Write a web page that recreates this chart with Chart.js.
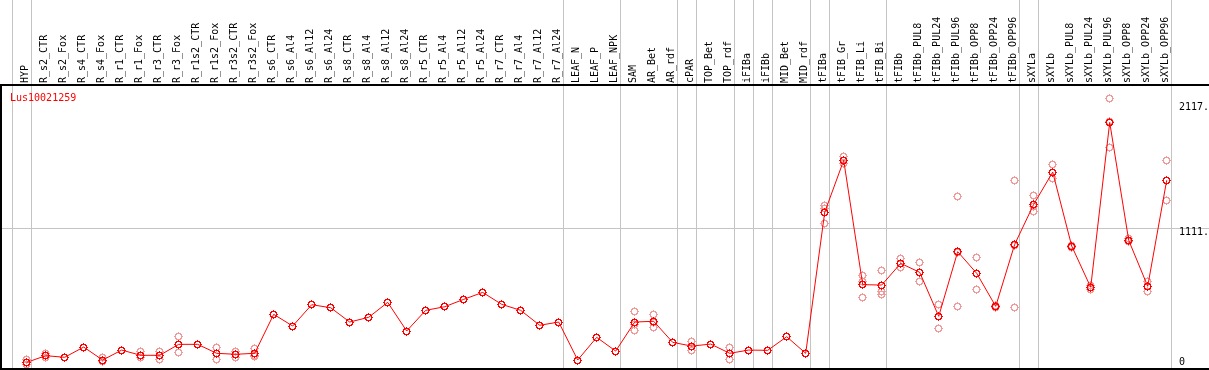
<!DOCTYPE html>
<html>
<head>
<meta charset="utf-8">
<title>Lus10021259</title>
<script src="https://cdn.jsdelivr.net/npm/chart.js@4.4.1/dist/chart.umd.min.js"></script>
<style>
  html, body { margin: 0; padding: 0; background: #fff; }
  #wrap { width: 1209px; height: 370px; }
</style>
</head>
<body>
<div id="wrap"><canvas id="geneChart" width="1209" height="370"></canvas></div>
<script>
// gene id shown in the corner
const geneName = 'Lus10021259';

// sample names, left to right
const categories = [
    'HYP', 'R_s2_CTR', 'R_s2_Fox', 'R_s4_CTR', 'R_s4_Fox', 'R_r1_CTR', 'R_r1_Fox',
    'R_r3_CTR', 'R_r3_Fox', 'R_r1s2_CTR', 'R_r1s2_Fox', 'R_r3s2_CTR', 'R_r3s2_Fox',
    'R_s6_CTR', 'R_s6_Al4', 'R_s6_Al12', 'R_s6_Al24', 'R_s8_CTR', 'R_s8_Al4',
    'R_s8_Al12', 'R_s8_Al24', 'R_r5_CTR', 'R_r5_Al4', 'R_r5_Al12', 'R_r5_Al24',
    'R_r7_CTR', 'R_r7_Al4', 'R_r7_Al12', 'R_r7_Al24', 'LEAF_N', 'LEAF_P', 'LEAF_NPK',
    'SAM', 'AR_Bet', 'AR_rdf', 'cPAR', 'TOP_Bet', 'TOP_rdf', 'iFIBa', 'iFIBb',
    'MID_Bet', 'MID_rdf', 'tFIBa', 'tFIB_Gr', 'tFIB_Li', 'tFIB_Bi', 'tFIBb',
    'tFIBb_PUL8', 'tFIBb_PUL24', 'tFIBb_PUL96', 'tFIBb_OPP8', 'tFIBb_OPP24', 'tFIBb_OPP96',
    'sXYLa', 'sXYLb', 'sXYLb_PUL8', 'sXYLb_PUL24', 'sXYLb_PUL96', 'sXYLb_OPP8',
    'sXYLb_OPP24', 'sXYLb_OPP96'
];

// mean expression per sample
const meanValues = [
    38, 92, 79, 161, 57, 137, 95, 95, 183, 183, 111, 103, 111,
    424, 330, 501, 477, 362, 400, 520, 290, 456, 485, 544, 600,
    504, 456, 336, 362, 57, 239, 129,
    362, 368, 199, 169, 185, 111, 137, 135, 244, 111,
    1243, 1660, 662, 659, 833, 761, 408, 927, 753, 488, 986,
    1307, 1566, 972, 641, 1965, 1018, 649, 1500
];

// single replicates (null where none is shown)
const rep1 = [
    60, 111, null, null, 79, null, 127, 127, 247, null, 161, 127, 153,
    null, null, null, null, null, null, null, null, null, null, null, null,
    null, null, null, null, null, null, null,
    448, 426, null, 207, null, 156, null, null, null, null,
    1301, 1695, 735, 777, 870, 841, 504, 1371, 882, 495, 1500,
    1379, 1623, 980, 655, 2158, 1030, 691, 1660
];
const rep2 = [
    38, 92, null, null, 50, null, 80, 95, 183, null, 107, 103, 95,
    null, null, null, null, null, null, null, null, null, null, null, null,
    null, null, null, null, null, null, null,
    340, 362, null, 165, null, 111, null, null, null, null,
    1273, 1655, 690, 607, 833, 761, 408, 922, 753, 488, 978,
    1291, 1566, 972, 641, 1972, 1018, 649, 1500
];
const rep3 = [
    18, 75, null, null, 42, null, 78, 63, 119, null, 65, 80, 85,
    null, null, null, null, null, null, null, null, null, null, null, null,
    null, null, null, null, null, null, null,
    298, 316, null, 135, null, 65, null, null, null, null,
    1155, 1631, 560, 585, 798, 689, 312, 488, 625, 481, 480,
    1251, 1513, 964, 627, 1765, 1006, 605, 1339
];

// last sample index of each tissue group (-1 = before the first one)
const groupEnds = [-1, 0, 28, 31, 34, 35, 37, 38, 39, 41, 42, 45, 52, 53, 60];

// right hand axis
const yTicks = [0, 1111, 2117];
const yTickLabels = ['0', '1111.', '2117.'];

const MONO = '"DejaVu Sans Mono", "Liberation Mono", monospace';

// pixel mask of the marker: a small ring with four stubs
const MARKER_MASK = [
    '....X....',
    '..XXXXX..',
    '.XX...XX.',
    '.X.....X.',
    'XX.....XX',
    '.X.....X.',
    '.XX...XX.',
    '..XXXXX..',
    '....X....'
];

/**
 * Paint the marker mask onto a small canvas, used as pointStyle
 */
function makeMarker(color) {
    const c = document.createElement('canvas');
    c.width = MARKER_MASK[0].length;
    c.height = MARKER_MASK.length;
    const g = c.getContext('2d');
    g.fillStyle = color;
    MARKER_MASK.forEach((row, y) => {
        for (let x = 0; x < row.length; x++) {
            if (row[x] === 'X') g.fillRect(x, y, 1, 1);
        }
    });
    return c;
}

function toPoints(values) {
    return values.map((v, i) => ({ x: i, y: v }));
}

// group separators, frame and gene name
const decorations = {
    id: 'decorations',
    beforeDraw(chart) {
        const ctx = chart.ctx;
        const area = chart.chartArea;
        const xs = chart.scales.x;
        ctx.save();
        ctx.strokeStyle = '#c4c4c4';
        ctx.lineWidth = 1;
        groupEnds.forEach(idx => {
            const px = Math.round(xs.getPixelForValue(idx + 0.21)) + 0.5;
            ctx.beginPath();
            ctx.moveTo(px, 0);
            ctx.lineTo(px, chart.height);
            ctx.stroke();
        });
        ctx.restore();

        // keep the "0" label inside the canvas
        const ys = chart.scales.y;
        ys.getLabelItems(area).forEach(item => {
            const t = item.options.translation;
            if (t[1] > area.bottom - 7) t[1] = area.bottom - 7;
        });
    },
    beforeDatasetsDraw(chart) {
        // crisp pixel markers
        chart.ctx.imageSmoothingEnabled = false;
    },
    afterDraw(chart) {
        const ctx = chart.ctx;
        const area = chart.chartArea;
        ctx.save();
        ctx.strokeStyle = '#000';
        ctx.lineWidth = 2;
        ctx.beginPath();
        ctx.moveTo(0, area.top);
        ctx.lineTo(chart.width, area.top);
        ctx.moveTo(area.left, area.top);
        ctx.lineTo(area.left, area.bottom);
        ctx.lineTo(chart.width, area.bottom);
        ctx.stroke();

        ctx.fillStyle = '#ff0000';
        ctx.font = '10px ' + MONO;
        ctx.textAlign = 'left';
        ctx.textBaseline = 'alphabetic';
        ctx.fillText(geneName, 10, area.top + 16);
        ctx.restore();
    }
};

const meanMarker = makeMarker('#ff0000');
const repMarker = makeMarker('#f19a9a');

const repStyle = {
    showLine: false,
    pointStyle: repMarker,
    pointRadius: 5,
    pointHoverRadius: 5,
    order: 2
};

new Chart(document.getElementById('geneChart'), {
    type: 'scatter',
    data: {
        datasets: [
            {
                label: 'mean',
                data: toPoints(meanValues),
                showLine: true,
                borderColor: '#ff0000',
                borderWidth: 1,
                pointStyle: meanMarker,
                pointRadius: 5,
                pointHoverRadius: 5,
                order: 1
            },
            Object.assign({ label: 'rep1', data: toPoints(rep1) }, repStyle),
            Object.assign({ label: 'rep2', data: toPoints(rep2) }, repStyle),
            Object.assign({ label: 'rep3', data: toPoints(rep3) }, repStyle)
        ]
    },
    options: {
        responsive: false,
        animation: false,
        layout: {
            autoPadding: false,
            padding: { left: 1, right: 0, top: 0, bottom: 1 }
        },
        plugins: {
            legend: { display: false },
            tooltip: { enabled: false }
        },
        scales: {
            x: {
                type: 'linear',
                position: 'top',
                min: -1.3526,
                max: 62.226,
                afterBuildTicks: scale => {
                    scale.ticks = categories.map((c, i) => ({ value: i }));
                },
                afterFit: scale => {
                    scale.height = 85;
                    scale.paddingLeft = 0;
                    scale.paddingRight = 0;
                },
                grid: { display: false, drawTicks: false },
                border: { display: false },
                ticks: {
                    autoSkip: false,
                    maxRotation: 90,
                    minRotation: 90,
                    padding: 2,
                    labelOffset: 11,
                    color: '#000',
                    font: { family: MONO, size: 10 },
                    callback: value => categories[value]
                }
            },
            y: {
                type: 'linear',
                position: 'right',
                min: -15,
                max: 2265,
                afterBuildTicks: scale => {
                    scale.ticks = yTicks.map(v => ({ value: v }));
                },
                afterFit: scale => {
                    scale.width = 0;
                    scale.paddingTop = 0;
                    scale.paddingBottom = 0;
                },
                grid: {
                    drawTicks: false,
                    color: ctx => ctx.tick && ctx.tick.value === 1111 ? '#c4c4c4' : 'rgba(0,0,0,0)'
                },
                border: { display: false },
                ticks: {
                    mirror: true,
                    crossAlign: 'far',
                    padding: 0,
                    labelOffset: 3.5,
                    color: '#000',
                    font: { family: MONO, size: 10 },
                    callback: (value, i) => yTickLabels[i]
                }
            }
        }
    },
    plugins: [decorations]
});
</script>
</body>
</html>
